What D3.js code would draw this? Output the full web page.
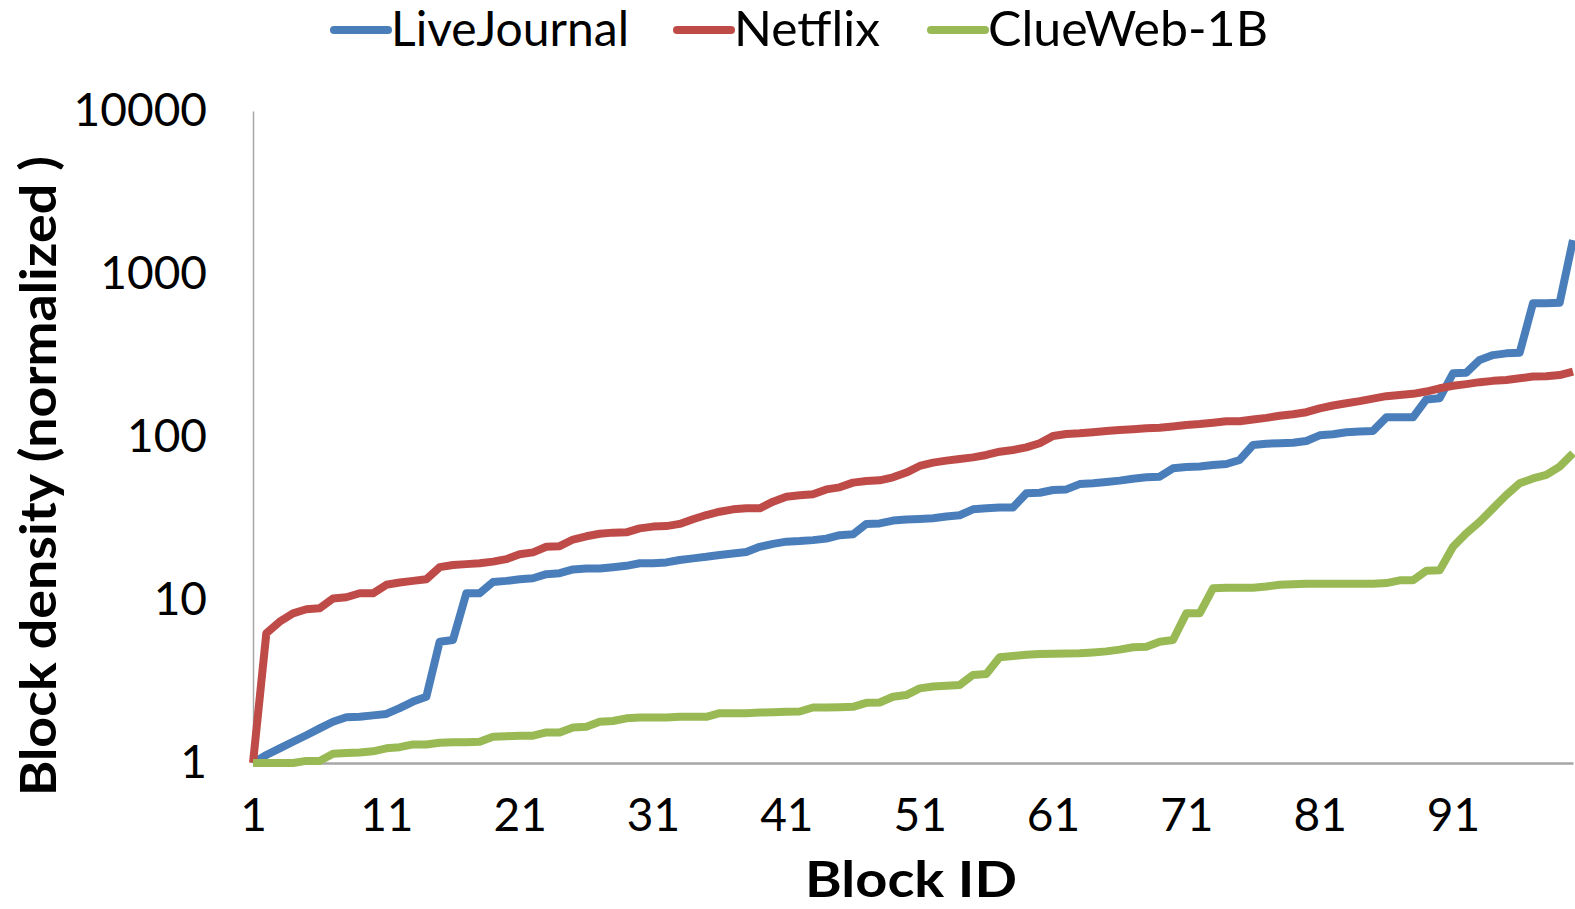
<!DOCTYPE html>
<html>
<head>
<meta charset="utf-8">
<script src="https://cdn.jsdelivr.net/npm/d3@7"></script>
<style>
  body { margin: 0; background: #fff; }
  svg text { font-family: Lato, "Open Sans", sans-serif; fill: #000; }
</style>
</head>
<body>
<div id="chart"></div>
<script>
// Block IDs 1..100
const blockIds = d3.range(1, 101);

const liveJournal = [
    1, 1.12, 1.23, 1.35, 1.48, 1.63, 1.79, 1.91, 1.92, 1.96,
    2.0, 2.17, 2.38, 2.55, 5.55, 5.69, 11.0, 11.0, 12.9, 13.1,
    13.4, 13.6, 14.4, 14.6, 15.4, 15.6, 15.6, 15.9, 16.2, 16.8,
    16.8, 17.0, 17.6, 18.0, 18.4, 18.9, 19.3, 19.7, 21.2, 22.1,
    22.8, 23.0, 23.3, 23.8, 25.0, 25.3, 29.3, 29.5, 30.7, 31.2,
    31.4, 31.7, 32.5, 33.1, 36.0, 36.5, 36.9, 37.0, 45.1, 45.5,
    47.3, 47.7, 51.4, 52.0, 52.9, 54.0, 55.5, 56.6, 57.1, 64.3,
    65.4, 65.9, 67.3, 68.3, 72.3, 89.3, 91.0, 91.5, 92.3, 94.5,
    102.4, 104, 107, 108, 109, 132, 132, 132, 170, 173,
    246, 248, 297, 318, 326, 329, 661, 661, 667, 1617
];

const netflix = [
    1, 6.25, 7.36, 8.28, 8.77, 8.89, 10.2, 10.4, 11.0, 11.0,
    12.4, 12.8, 13.1, 13.4, 15.9, 16.4, 16.6, 16.8, 17.2, 17.8,
    19.1, 19.6, 21.2, 21.4, 23.5, 24.6, 25.5, 25.9, 26.0, 27.5,
    28.2, 28.4, 29.3, 31.3, 33.2, 34.8, 36.0, 36.5, 36.5, 40.1,
    43.0, 43.9, 44.5, 47.7, 49.1, 52.5, 53.7, 54.2, 56.6, 60.5,
    66.4, 69.6, 71.6, 73.3, 75.0, 77.6, 81.3, 83.2, 86.4, 91.5,
    101.5, 104.3, 105.3, 106.9, 108.8, 110.4, 111.5, 113, 114, 116,
    118.5, 120, 122.4, 125, 125, 128, 131, 135, 138, 142,
    150, 156, 161, 166, 172, 178, 181, 184, 190, 199,
    206, 211, 217, 221, 224, 229, 235, 236, 240, 252
];

const clueWeb = [
    1, 1, 1, 1, 1.03, 1.03, 1.14, 1.15, 1.16, 1.18,
    1.23, 1.25, 1.30, 1.30, 1.33, 1.34, 1.34, 1.35, 1.45, 1.46,
    1.47, 1.47, 1.54, 1.54, 1.65, 1.67, 1.79, 1.81, 1.88, 1.90,
    1.90, 1.90, 1.92, 1.92, 1.92, 2.02, 2.02, 2.02, 2.04, 2.05,
    2.06, 2.07, 2.19, 2.19, 2.20, 2.21, 2.34, 2.35, 2.55, 2.61,
    2.87, 2.95, 2.98, 3.01, 3.47, 3.52, 4.45, 4.53, 4.62, 4.66,
    4.68, 4.70, 4.72, 4.77, 4.84, 4.96, 5.13, 5.17, 5.55, 5.68,
    8.28, 8.28, 11.8, 11.9, 11.9, 11.9, 12.1, 12.4, 12.5, 12.6,
    12.6, 12.6, 12.6, 12.6, 12.6, 12.7, 13.2, 13.2, 15.1, 15.2,
    21.2, 25.7, 30.2, 36.5, 44.1, 52.0, 55.7, 58.5, 65.8, 79.4
];

const seriesNames = ["LiveJournal", "Netflix", "ClueWeb-1B"];
const seriesColors = ["#4A7EBB", "#BE4B48", "#98B954"];
const xTicks = [1, 11, 21, 31, 41, 51, 61, 71, 81, 91];
const yTicks = [1, 10, 100, 1000, 10000];

const margin = { top: 111, right: 2, bottom: 146, left: 253 },
    width = 1575 - margin.left - margin.right,
    height = 909 - margin.top - margin.bottom;

const svg = d3.select("#chart")
    .append("svg")
    .attr("width", 1575)
    .attr("height", 909);

const g = svg.append("g")
    .attr("transform", "translate(" + margin.left + "," + margin.top + ")");

const x = d3.scaleLinear()
    .domain([1, 100])
    .range([0, width]);

const y = d3.scaleLog()
    .domain([1, 10000])
    .range([height, 0]);

// y axis
const yAxis = g.append("g")
    .call(d3.axisLeft(y).tickValues(yTicks).tickFormat(d3.format("d")).tickSize(0).tickPadding(46));
yAxis.select(".domain").attr("stroke", "#a6a6a6").attr("stroke-width", 1.5);
yAxis.selectAll("text").style("font-size", "46px").attr("fill", "#000");

// x axis
const xAxis = g.append("g")
    .attr("transform", "translate(0," + height + ")")
    .call(d3.axisBottom(x).tickValues(xTicks).tickFormat(d3.format("d")).tickSize(0).tickPadding(35));
xAxis.select(".domain").attr("stroke", "#a6a6a6").attr("stroke-width", 2.5);
xAxis.selectAll("text").style("font-size", "46px").attr("fill", "#000");

// lines
const dataReady = [liveJournal, netflix, clueWeb].map((vals, i) => ({
    name: seriesNames[i],
    color: seriesColors[i],
    values: blockIds.map((id, j) => ({ id: id, v: vals[j] }))
}));

const line = d3.line()
    .x(d => x(d.id))
    .y(d => y(d.v));

g.selectAll("path.series")
    .data(dataReady)
    .enter()
    .append("path")
    .attr("class", "series")
    .attr("d", d => line(d.values))
    .attr("fill", "none")
    .attr("stroke", d => d.color)
    .attr("stroke-width", 8)
    .attr("stroke-linejoin", "round");

// axis titles
svg.append("text")
    .attr("x", 911)
    .attr("y", 897)
    .attr("text-anchor", "middle")
    .attr("textLength", 212)
    .attr("lengthAdjust", "spacingAndGlyphs")
    .style("font-size", "50px")
    .style("font-weight", "bold")
    .text("Block ID");

svg.append("text")
    .attr("transform", "translate(56,476) rotate(-90)")
    .attr("text-anchor", "middle")
    .attr("textLength", 640)
    .attr("lengthAdjust", "spacingAndGlyphs")
    .style("font-size", "50px")
    .style("font-weight", "bold")
    .text("Block density (normalized )");

// legend
const legendX = [334, 677, 931];
const legendW = [238, 146, 280];
const legend = svg.selectAll("g.legend")
    .data(dataReady)
    .enter()
    .append("g")
    .attr("class", "legend")
    .attr("transform", (d, i) => "translate(" + legendX[i] + ",30)");

legend.append("line")
    .attr("x1", 0).attr("x2", 54)
    .attr("y1", 0).attr("y2", 0)
    .attr("stroke", d => d.color)
    .attr("stroke-width", 8)
    .attr("stroke-linecap", "round");

legend.append("text")
    .attr("x", 57)
    .attr("y", 16)
    .attr("textLength", (d, i) => legendW[i])
    .attr("lengthAdjust", "spacingAndGlyphs")
    .style("font-size", "48px")
    .text(d => d.name);
</script>
</body>
</html>
